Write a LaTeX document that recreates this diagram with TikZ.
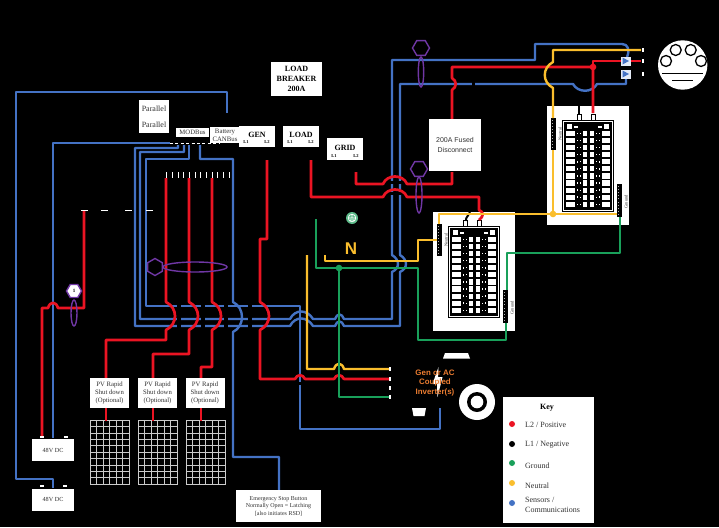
\documentclass[tikz,border=0pt]{standalone}
\usepackage{fontspec}
\setmainfont{Liberation Serif}
\setsansfont{Liberation Sans}
\usetikzlibrary{shapes.geometric}
\usetikzlibrary{arrows.meta}

\definecolor{wblue}{RGB}{68,114,196}
\definecolor{wred}{RGB}{235,20,35}
\definecolor{wgreen}{RGB}{25,160,90}
\definecolor{wyellow}{RGB}{250,190,45}
\definecolor{wpurple}{RGB}{112,55,165}
\definecolor{worange}{RGB}{237,125,49}
\definecolor{txtgray}{RGB}{50,50,50}

\tikzset{
  bluew/.style={draw=wblue, line width=2.4pt, line join=round},
  redw/.style={draw=wred, line width=2.7pt, line join=round},
  greenw/.style={draw=wgreen, line width=2.4pt, line join=round},
  yelw/.style={draw=wyellow, line width=2.4pt, line join=round},
  blackw/.style={draw=black, line width=3pt},
  ringp/.style={draw=wpurple, line width=1.4pt},
  hexp/.style={regular polygon, regular polygon sides=6, draw=wpurple, line width=1.4pt, minimum size=17pt, inner sep=0pt},
  box/.style={fill=white, text=txtgray, inner sep=0pt, align=center},
  boldbox/.style={box, text=black, font=\fontsize{8}{9.7}\selectfont\bfseries},
  pvbox/.style={box, minimum width=39pt, minimum height=30pt, font=\fontsize{6.7}{8.3}\selectfont},
  battbox/.style={box, minimum width=42pt, minimum height=22pt, font=\fontsize{6.2}{7}\selectfont},
  linetag/.style={text=black, inner sep=0pt, font=\fontsize{4.5}{5}\selectfont\bfseries},
  keytext/.style={text=txtgray, anchor=west, inner sep=0pt, align=left, font=\fontsize{8}{10}\selectfont},
  wterm/.style={fill=white, draw=none},
  % solar panel
  pvgrid/.pic={
    \fill[black] (0,0) rectangle (39,64);
    \draw[white!80!black, line width=0.8pt] (0,0) rectangle (39,64);
    \foreach \c in {1,...,5} \draw[white!80!black, line width=0.5pt] (\c*6.5,0) -- (\c*6.5,64);
    \foreach \r in {1,...,9} \draw[white!80!black, line width=0.5pt] (0,\r*6.4) -- (39,\r*6.4);
  },
  % breaker panel
  panelpic/.pic={
    \fill[white] (0,0) rectangle (82,119);
    % bars
    \fill[black] (4,12) rectangle (9,44);
    \fill[black] (70,78) rectangle (75,111);
    \foreach \d in {0,...,9} {
      \fill[white!70!black] (5.2,14+\d*3) rectangle (6,14.8+\d*3);
      \fill[white!70!black] (71.2,80+\d*3.1) rectangle (72,80.8+\d*3.1);
    }
    \node[rotate=90, text=txtgray, inner sep=0pt, font=\fontsize{4.5}{5}\selectfont] (neutral) at (13,28) {Neutral};
    \node[rotate=90, text=txtgray, inner sep=0pt, font=\fontsize{4.5}{5}\selectfont] (ground) at (79,96) {Ground};
    % lugs
    \draw[black, fill=white, line width=0.8pt] (30.5,8) rectangle (34.5,14);
    \draw[black, fill=white, line width=0.8pt] (44,8) rectangle (48,14);
    % breakers
    \begin{scope}[shift={(15,14)}]
      \fill[black] (0,0) rectangle (52,92);
      \draw[white, line width=0.8pt] (1.6,1.6) rectangle (50.4,90.4);
      \fill[white] (5,4) rectangle (10,9);
      \fill[white] (42,4) rectangle (47,9);
      \fill[white] (12,6) rectangle (16,7.5);
      \fill[white] (36,6) rectangle (40,7.5);
      \foreach \r [evaluate=\r as \yy using 13.3+7.1*\r] in {0,...,10} {
        \fill[white] (4.3,\yy-2.6) rectangle (12.7,\yy+2.6);
        \fill[white] (14.8,\yy-0.8) rectangle (16.2,\yy+0.8);
        \fill[white] (17.8,\yy-0.6) rectangle (18.8,\yy+0.6);
        \fill[white] (21,\yy-2.6) rectangle (25,\yy+2.6);
        \fill[white] (28,\yy-2.6) rectangle (32,\yy+2.6);
        \fill[white] (34.2,\yy-0.6) rectangle (35.2,\yy+0.6);
        \fill[white] (36.8,\yy-0.8) rectangle (38.2,\yy+0.8);
        \fill[white] (39.5,\yy-2.6) rectangle (47.5,\yy+2.6);
      }
    \end{scope}
  }
}

\begin{document}
\begin{tikzpicture}[x=1pt,y=-1pt,>=stealth]

  \useasboundingbox (0,0) rectangle (719,527);
  \fill[black] (0,0) rectangle (719,527);

  %%% BREAKER PANELS

  \pic (up) at (547,106) {panelpic};
  \pic (lo) at (433,212) {panelpic};

  %%% TERMINALS

  \coordinate (tbatA) at (42,436);
  \coordinate (tbatB) at (53,438);
  \coordinate (tbatC) at (53,488);
  \coordinate (tgen) at (267,160);
  \coordinate (tload) at (311,160);
  \coordinate (tgrid) at (356,172);
  \coordinate (tinvN) at (389,369);
  \coordinate (tinvL) at (389,379);
  \coordinate (tinvG) at (389,397);
  \coordinate (tmetN) at (641,50);
  \coordinate (gnd) at (316,219);

  %%% BLUE WIRES

  \draw[bluew] (227,113) -- (227,92) -- (16,92) -- (16,479) -- (53,479) -- (tbatC);
  \draw[bluew] (170,143) -- (53,143) -- (tbatB);
  % to the meter
  \draw[bluew] (178,145) -- (178,148) -- (135,148) -- (135,326) -- (290,326)
    .. controls (295,316) and (307,316) .. (313,326) -- (335,326)
    .. controls (337,320) and (342,320) .. (344,326) -- (400,326) -- (400,272)
    .. controls (408,268) and (408,260) .. (400,255) -- (400,84) -- (573,84)
    .. controls (578,93) and (592,93) .. (597,84) -- (626,84) -- (626,78);
  \draw[bluew] (184,145) -- (184,152) -- (140,152) -- (140,319) -- (290,319)
    .. controls (295,309) and (307,309) .. (313,319) -- (335,319)
    .. controls (337,313) and (342,313) .. (344,319) -- (392,319) -- (392,272)
    .. controls (400,268) and (400,260) .. (392,255) -- (392,60) -- (535,60) -- (535,44) -- (622,44)
    .. controls (628,44) and (630,50) .. (627,57);
  % to the inverter
  \draw[bluew] (189,145) -- (189,159) -- (146,159) -- (146,306) -- (300,306) -- (300,429) -- (440,429) -- (440,408);
  % to the stop button
  \draw[bluew] (200,145) -- (200,159) -- (233,159) -- (233,302)
    .. controls (245,308) and (245,326) .. (233,332) -- (233,457) -- (279,457) -- (279,490);

  %%% BLACK WIRES (seen where they cross)

  \foreach \x in {179,203,226,250} \draw[blackw, line width=4.5pt] (\x,303) -- (\x,329);
  \draw[blackw] (296,383) -- (344,383);
  \draw[blackw] (388,182) -- (404,182);
  \draw[blackw] (388,193) -- (404,193);
  \draw[blackw] (473,81) -- (473,87);
  \draw[blackw, line width=2pt] (579,114) -- (579,106);
  \draw[blackw, line width=2pt] (465.7,221) .. controls (466,216) and (469,216) .. (470,212);

  %%% RED WIRES

  \draw[redw] (84,210) -- (84,308) -- (58,308) .. controls (56,301) and (50,301) .. (48,308) -- (42,308) -- (tbatA);
  % pv strings
  \draw[redw] (166,178) -- (166,302) .. controls (178,308) and (178,324) .. (166,330) -- (166,340) -- (106,340) -- (106,378);
  \draw[redw] (189,178) -- (189,302) .. controls (201,308) and (201,324) .. (189,330) -- (189,354) -- (153,354) -- (153,378);
  \draw[redw] (212,178) -- (212,302) .. controls (224,308) and (224,324) .. (212,330) -- (212,367) -- (201,367) -- (201,378);
  % gen
  \draw[redw] (tgen) -- (267,239) -- (260,239) -- (260,302) .. controls (272,308) and (272,324) .. (260,330) -- (260,379)
    -- (295,379) .. controls (297,374) and (303,374) .. (305,379) -- (334,379)
    .. controls (336,374) and (342,374) .. (344,379) -- (tinvL);
  % load
  \draw[redw] (tload) -- (311,197) -- (383,197) .. controls (387,187) and (403,187) .. (407,197) -- (479,197) -- (479,210)
    .. controls (484,212) and (484,216) .. (479,220);
  % grid and fused disconnect
  \draw[redw] (tgrid) -- (356,184) -- (383,184) .. controls (387,174) and (403,174) .. (407,184) -- (452,184) -- (452,172);
  \draw[redw] (452,119) -- (452,90) .. controls (457,87) and (457,81) .. (452,78) -- (452,67) -- (593,67) -- (593,113);
  \draw[redw] (593,67) -- (593,61) -- (621,61);
  \draw[redw] (631,61) -- (641,61);
  \fill[wred] (593,67) circle (3.3);

  %%% YELLOW WIRES

  \draw[yelw] (tmetN) -- (553,50) -- (553,62) .. controls (542,68) and (542,82) .. (553,88) -- (553,118);
  \draw[yelw] (553,150) -- (553,214);
  \draw[yelw] (439,224) -- (439,214) -- (617,214);
  \fill[wyellow] (553,214) circle (3.3);
  \draw[yelw] (325,255) -- (325,261) -- (418,261) -- (418,240) -- (437,240);
  \draw[yelw] (307,255) -- (307,369) -- (334,369) .. controls (336,362) and (342,362) .. (344,369) -- (tinvN);

  %%% GREEN WIRES

  \draw[greenw] (gnd) -- (316,268) -- (418,268) -- (418,340) -- (506,340) -- (506,323);
  \draw[greenw] (339,268) -- (339,397) -- (tinvG);
  \fill[wgreen] (339,268) circle (3.3);
  \draw[greenw] (620,217) -- (620,253) -- (507,253) -- (507,290);

  %%% RINGS AND SENSORS

  \draw[ringp] (195,267) ellipse (32 and 5);
  \node[hexp, rotate=30] (hexcan) at (155,267) {};
  \draw[ringp] (421,72) ellipse (2.7 and 15);
  \node[hexp] (hexgrid) at (421,48) {};
  \draw[ringp] (419,195) ellipse (3 and 18);
  \node[hexp] (hexload) at (419,169) {};
  \draw[ringp] (74,313) ellipse (3 and 13);
  \node[hexp, fill=white, minimum size=15pt, text=black, font=\fontsize{5}{5}\selectfont\bfseries] (hexbat) at (74,291) {1};

  %%% WHITE TERMINAL MARKS

  \foreach \x in {166,172,178,183,189,195,200,206,212,217,223,229} \fill[wterm] (\x-0.5,172) rectangle (\x+0.5,178);
  \foreach \x in {81,101,125,146} \fill[wterm] (\x,209.5) rectangle (\x+6.5,211);
  \draw[white, line width=1pt, dash pattern=on 3pt off 2.4pt] (170,143.5) -- (220,143.5);
  \foreach \y in {369,379,388,397} \fill[wterm] (389,\y-2) rectangle (391,\y+2);
  \foreach \y in {50,61,74} \fill[wterm] (642,\y-2) rectangle (644,\y+2);

  %%% TOP TEXT BOXES

  \node[boldbox, minimum width=51pt, minimum height=34pt] (brk) at (296.5,79) {LOAD\\BREAKER\\200A};
  \node[box, minimum width=30pt, minimum height=33pt, font=\fontsize{8}{16}\selectfont] (par) at (154,116.5) {Parallel\\Parallel};
  \node[box, minimum width=33pt, minimum height=9pt, font=\fontsize{6.7}{8}\selectfont] (modbus) at (192.5,132.5) {MODBus};
  \node[box, minimum width=30pt, minimum height=16pt, font=\fontsize{6.8}{8.2}\selectfont] (canbus) at (225,135) {Battery\\CANBus};
  \node[boldbox, minimum width=36pt, minimum height=21pt, text depth=3pt] (gen) at (257,136.5) {GEN};
  \node[linetag] (genA) at (246,142) {L1};
  \node[linetag] (genB) at (267,142) {L2};
  \node[boldbox, minimum width=36pt, minimum height=21pt, text depth=3pt] (load) at (301,136.5) {LOAD};
  \node[linetag] (loadA) at (290,142) {L1};
  \node[linetag] (loadB) at (311,142) {L2};
  \node[boldbox, minimum width=36pt, minimum height=22pt, text depth=3pt] (grid) at (345,149) {GRID};
  \node[linetag] (gridA) at (334,156) {L1};
  \node[linetag] (gridB) at (356,156) {L2};
  \node[box, minimum width=52pt, minimum height=52pt, font=\sffamily\fontsize{7}{10}\selectfont] (fused) at (455,145) {200A Fused\\Disconnect};

  %%% GROUND AND NEUTRAL MARKS

  \fill[wgreen!70!white] (352,218) circle (6);
  \draw[white, line width=0.7pt] (352,218) circle (3.8) (352,214) -- (352,218) (349,218) -- (355,218) (350,220) -- (354,220);
  \node[text=wyellow, inner sep=0pt, font=\sffamily\bfseries\fontsize{17}{17}\selectfont] (nmark) at (351,249) {N};

  %%% METER

  \fill[white] (682.7,65) circle (24.7);
  \foreach \x/\y in {666/61,675.7/50,690.7/50,701/61} \draw[black, fill=white, line width=1.3pt] (\x,\y) circle (5.5);
  \draw[black, line width=1.2pt] (662,73.7) -- (703,73.7);
  \draw[black, line width=1.2pt] (672,80.7) -- (693,80.7);
  \foreach \y in {61,74} {
    \fill[white!85!wblue] (621,\y-4.5) rectangle (630.5,\y+4.5);
    \fill[wblue] (622.5,\y-3.5) -- (629,\y) -- (622.5,\y+3.5) -- cycle;
  }

  %%% PV

  \node[pvbox] (rsdA) at (109.5,393) {PV Rapid\\Shut down\\(Optional)};
  \node[pvbox] (rsdB) at (157.5,393) {PV Rapid\\Shut down\\(Optional)};
  \node[pvbox] (rsdC) at (205,393) {PV Rapid\\Shut down\\(Optional)};
  \pic (pvA) at (90,420) {pvgrid};
  \pic (pvB) at (138,420) {pvgrid};
  \pic (pvC) at (186,420) {pvgrid};
  \draw[redw] (106,408) -- (106,421);
  \draw[redw] (153,408) -- (153,421);
  \draw[redw] (201,408) -- (201,421);

  %%% BATTERIES

  \node[battbox] (batA) at (53,450) {48V DC};
  \node[battbox] (batB) at (53,499.5) {48V DC};
  \fill[wterm] (40,436) rectangle (44,438);
  \fill[wterm] (64,436) rectangle (68,438);
  \fill[wterm] (40,485) rectangle (44,487);
  \fill[wterm] (63,485) rectangle (67,487);

  %%% STOP BUTTON

  \node[box, minimum width=85pt, minimum height=32pt, font=\fontsize{6}{7.5}\selectfont] (estop) at (278.5,506)
    {Emergency Stop Button\\Normally Open = Latching\\{[also initiates RSD]}};

  %%% INVERTER

  \fill[white] (443,358.5) -- (445,353) -- (468,353) -- (470,358.5) -- cycle;
  \fill[white] (412,408) -- (426,408) -- (424.5,416) -- (413.5,416) -- cycle;
  \fill[white] (438.5,367) -- (432.5,384) -- (437,384) -- (437.5,397) -- (442.5,377) -- (438,377) -- cycle;
  \node[text=worange, inner sep=0pt, align=center, font=\sffamily\bfseries\fontsize{7.9}{9.6}\selectfont] (inv) at (435,383) {Gen or AC\\Coupled\\Inverter(s)};
  \fill[white] (477,402) circle (18);
  \fill[black] (477,402) circle (10);
  \fill[white] (477,402) circle (6.3);

  %%% KEY

  \fill[white] (503,397) rectangle (594,523);
  \node[text=black, inner sep=0pt, font=\fontsize{8}{9}\selectfont\bfseries] (keyt) at (547,408) {Key};
  \fill[wred] (512,424) circle (3);
  \node[keytext] (keyA) at (525,425) {L2 / Positive};
  \fill[black] (512,444) circle (3);
  \node[keytext] (keyB) at (525,445) {L1 / Negative};
  \fill[wgreen] (512,463) circle (3);
  \node[keytext] (keyC) at (525,466) {Ground};
  \fill[wyellow] (512,483) circle (3);
  \node[keytext] (keyD) at (525,486) {Neutral};
  \fill[wblue] (512,503) circle (3);
  \node[keytext] (keyE) at (525,505) {Sensors /\\Communications};

\end{tikzpicture}
\end{document}
